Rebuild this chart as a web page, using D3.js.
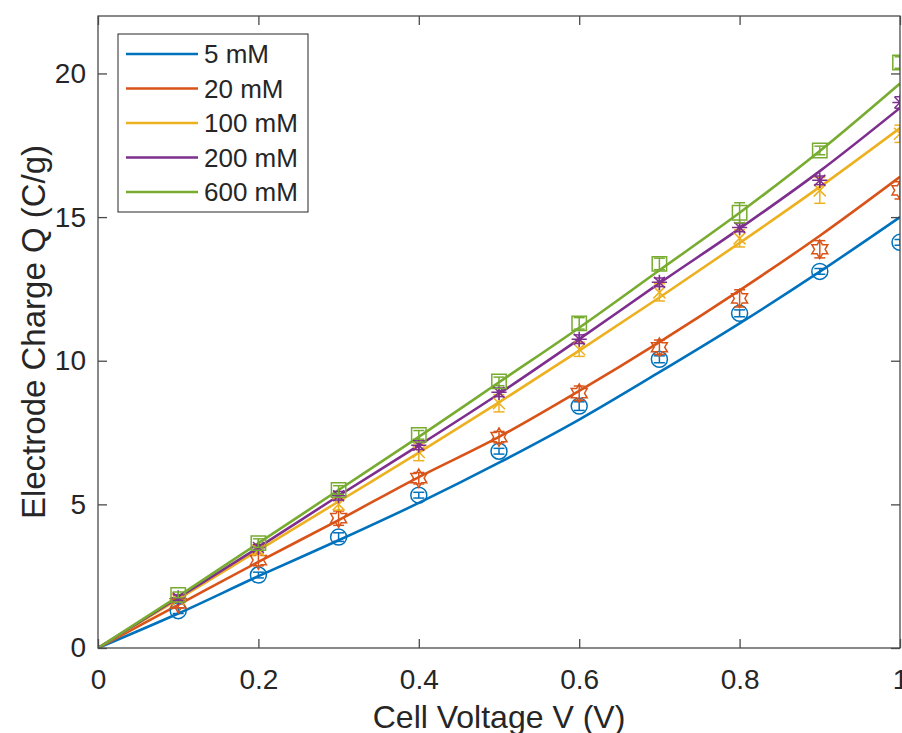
<!DOCTYPE html>
<html>
<head>
<meta charset="utf-8">
<script src="https://cdn.jsdelivr.net/npm/d3@7"></script>
<style>
  html, body { margin: 0; padding: 0; background: #fff; }
  svg { display: block; }
  text { font-family: "Liberation Sans", Arial, Helvetica, sans-serif; fill: #262626; }
</style>
</head>
<body>
<svg id="chart" width="902" height="733"></svg>
<script>
// ---------------- data ----------------
const seriesNames = ["5 mM", "20 mM", "100 mM", "200 mM", "600 mM"];
const seriesColors = ["#0072BD", "#D95319", "#EDB120", "#7E2F8E", "#77AC30"];
const markerTypes = ["circle", "hexagram", "x", "asterisk", "square"];

const voltages = [0.1, 0.2, 0.3, 0.4, 0.5, 0.6, 0.7, 0.8, 0.9, 1.0];
const measured5   = [1.30, 2.54, 3.86, 5.32, 6.85, 8.42, 10.05, 11.65, 13.11, 14.12];
const measured20  = [1.55, 3.06, 4.52, 5.91, 7.34, 8.87, 10.47, 12.17, 13.88, 15.93];
const measured100 = [1.70, 3.40, 5.00, 6.82, 8.52, 10.40, 12.38, 14.26, 15.93, 17.90];
const measured200 = [1.75, 3.50, 5.30, 7.06, 8.90, 10.75, 12.73, 14.64, 16.28, 18.99];
const measured600 = [1.85, 3.65, 5.50, 7.42, 9.28, 11.30, 13.37, 15.15, 17.32, 20.38];

const err5   = [0.10, 0.10, 0.15, 0.10, 0.10, 0.15, 0.12, 0.12, 0.10, 0.10];
const err20  = [0.15, 0.20, 0.25, 0.20, 0.20, 0.25, 0.25, 0.30, 0.30, 0.30];
const err100 = [0.10, 0.15, 0.20, 0.30, 0.30, 0.25, 0.30, 0.30, 0.45, 0.30];
const err200 = [0.10, 0.10, 0.15, 0.15, 0.15, 0.15, 0.15, 0.15, 0.15, 0.20];
const err600 = [0.10, 0.15, 0.15, 0.15, 0.15, 0.20, 0.20, 0.35, 0.15, 0.20];

const fitVoltages = [0, 0.1, 0.2, 0.3, 0.4, 0.5, 0.6, 0.7, 0.8, 0.9, 1.0];
const fit5   = [0, 1.20, 2.50, 3.75, 5.05, 6.45, 7.95, 9.60, 11.30, 13.10, 15.00];
const fit20  = [0, 1.50, 3.00, 4.45, 5.95, 7.35, 8.95, 10.65, 12.45, 14.35, 16.40];
const fit100 = [0, 1.70, 3.40, 5.10, 6.80, 8.55, 10.35, 12.20, 14.10, 16.05, 18.10];
const fit200 = [0, 1.75, 3.50, 5.30, 7.05, 8.85, 10.75, 12.70, 14.60, 16.60, 18.80];
const fit600 = [0, 1.80, 3.65, 5.50, 7.35, 9.25, 11.15, 13.15, 15.15, 17.30, 19.65];

const xTicks = [0, 0.2, 0.4, 0.6, 0.8, 1];
const yTicks = [0, 5, 10, 15, 20];
const xLabel = "Cell Voltage V (V)";
const yLabel = "Electrode Charge Q (C/g)";

const measured = [measured5, measured20, measured100, measured200, measured600];
const errors = [err5, err20, err100, err200, err600];
const fits = [fit5, fit20, fit100, fit200, fit600];

// ---------------- layout ----------------
const svg = d3.select("#chart");
const L = 98, R = 900, T = 16, B = 648;
const x = d3.scaleLinear().domain([0, 1]).range([L, R]);
const y = d3.scaleLinear().domain([0, 22]).range([B, T]);
const axisColor = "#4a4a4a";
const tickLen = 9;
const fontFam = "'Liberation Sans', Arial, Helvetica, sans-serif";

svg.append("defs").append("clipPath").attr("id", "plotclip")
  .append("rect").attr("x", L).attr("y", T).attr("width", R - L).attr("height", B - T);

const plot = svg.append("g").attr("clip-path", "url(#plotclip)");

// fitted lines
const line = d3.line().x(d => x(d[0])).y(d => y(d[1])).curve(d3.curveMonotoneX);
fits.forEach((f, i) => {
  plot.append("path")
    .datum(fitVoltages.map((v, j) => [v, f[j]]))
    .attr("d", line)
    .attr("fill", "none")
    .attr("stroke", seriesColors[i])
    .attr("stroke-width", 2.6);
});

// markers
function markerPath(type, s) {
  const p = d3.path();
  if (type === "circle") {
    p.arc(0, 0, s, 0, 2 * Math.PI);
  } else if (type === "square") {
    p.rect(-s * 0.9, -s * 0.9, s * 1.8, s * 1.8);
  } else if (type === "x") {
    const a = s * 0.75;
    p.moveTo(-a, -a); p.lineTo(a, a); p.moveTo(-a, a); p.lineTo(a, -a);
  } else if (type === "asterisk") {
    const a = s * 0.95, b = s * 0.68;
    p.moveTo(-a, 0); p.lineTo(a, 0); p.moveTo(0, -a); p.lineTo(0, a);
    p.moveTo(-b, -b); p.lineTo(b, b); p.moveTo(-b, b); p.lineTo(b, -b);
  } else if (type === "hexagram") {
    const ro = s * 1.15, ri = ro / Math.sqrt(3);
    for (let k = 0; k < 12; k++) {
      const r = k % 2 === 0 ? ro : ri;
      const ang = -Math.PI / 2 + k * Math.PI / 6;
      const px = r * Math.cos(ang), py = r * Math.sin(ang);
      if (k === 0) p.moveTo(px, py); else p.lineTo(px, py);
    }
    p.closePath();
  }
  return p.toString();
}

const capHalf = 5.5;
measured.forEach((m, i) => {
  const g = plot.append("g")
    .attr("stroke", seriesColors[i])
    .attr("fill", "none")
    .attr("stroke-width", 1.5);
  voltages.forEach((v, j) => {
    const cx = x(v), cy = y(m[j]);
    const lo = y(m[j] - errors[i][j]), hi = y(m[j] + errors[i][j]);
    g.append("line").attr("x1", cx).attr("x2", cx).attr("y1", lo).attr("y2", hi);
    g.append("line").attr("x1", cx - capHalf).attr("x2", cx + capHalf).attr("y1", lo).attr("y2", lo);
    g.append("line").attr("x1", cx - capHalf).attr("x2", cx + capHalf).attr("y1", hi).attr("y2", hi);
    g.append("path").attr("d", markerPath(markerTypes[i], 8)).attr("transform", `translate(${cx},${cy})`);
  });
});

// axes box
const axes = svg.append("g");
axes.append("rect").attr("x", L).attr("y", T).attr("width", R - L).attr("height", B - T)
  .attr("fill", "none").attr("stroke", axisColor).attr("stroke-width", 1.3);

// x ticks using d3 axis
const xAxisBottom = d3.axisBottom(x).tickValues(xTicks).tickSizeInner(-tickLen).tickSizeOuter(0)
  .tickPadding(21).tickFormat(d3.format("~g"));
const gxb = axes.append("g").attr("transform", `translate(0,${B})`).call(xAxisBottom);
gxb.select(".domain").remove();
gxb.selectAll(".tick line").attr("stroke", axisColor).attr("stroke-width", 1.3);
gxb.selectAll(".tick text").attr("font-size", 28).attr("fill", "#262626").attr("font-family", fontFam);

const xAxisTop = d3.axisTop(x).tickValues(xTicks).tickSizeInner(-tickLen).tickSizeOuter(0).tickFormat("");
const gxt = axes.append("g").attr("transform", `translate(0,${T})`).call(xAxisTop);
gxt.select(".domain").remove();
gxt.selectAll(".tick line").attr("stroke", axisColor).attr("stroke-width", 1.3);

const yAxisLeft = d3.axisLeft(y).tickValues(yTicks).tickSizeInner(-tickLen).tickSizeOuter(0)
  .tickPadding(12).tickFormat(d3.format("~g"));
const gyl = axes.append("g").attr("transform", `translate(${L},0)`).call(yAxisLeft);
gyl.select(".domain").remove();
gyl.selectAll(".tick line").attr("stroke", axisColor).attr("stroke-width", 1.3);
gyl.selectAll(".tick text").attr("font-size", 28).attr("fill", "#262626").attr("font-family", fontFam);

const yAxisRight = d3.axisRight(y).tickValues(yTicks).tickSizeInner(-tickLen).tickSizeOuter(0).tickFormat("");
const gyr = axes.append("g").attr("transform", `translate(${R},0)`).call(yAxisRight);
gyr.select(".domain").remove();
gyr.selectAll(".tick line").attr("stroke", axisColor).attr("stroke-width", 1.3);

// axis labels
svg.append("text").attr("x", (L + R) / 2).attr("y", 728).attr("text-anchor", "middle")
  .attr("font-size", 32).text(xLabel);
svg.append("text").attr("transform", `translate(45,${(T + B) / 2}) rotate(-90)`)
  .attr("text-anchor", "middle").attr("font-size", 33).text(yLabel);

// legend
const lg = svg.append("g");
lg.append("rect").attr("x", 118).attr("y", 34).attr("width", 190).attr("height", 178)
  .attr("fill", "#fff").attr("stroke", "#262626").attr("stroke-width", 1);
seriesNames.forEach((n, i) => {
  const ry = 54 + i * 34.5;
  lg.append("line").attr("x1", 126).attr("x2", 198).attr("y1", ry).attr("y2", ry)
    .attr("stroke", seriesColors[i]).attr("stroke-width", 2.6);
  lg.append("text").attr("x", 204).attr("y", ry).attr("dy", "0.36em")
    .attr("font-size", 26).text(n);
});
</script>
</body>
</html>
